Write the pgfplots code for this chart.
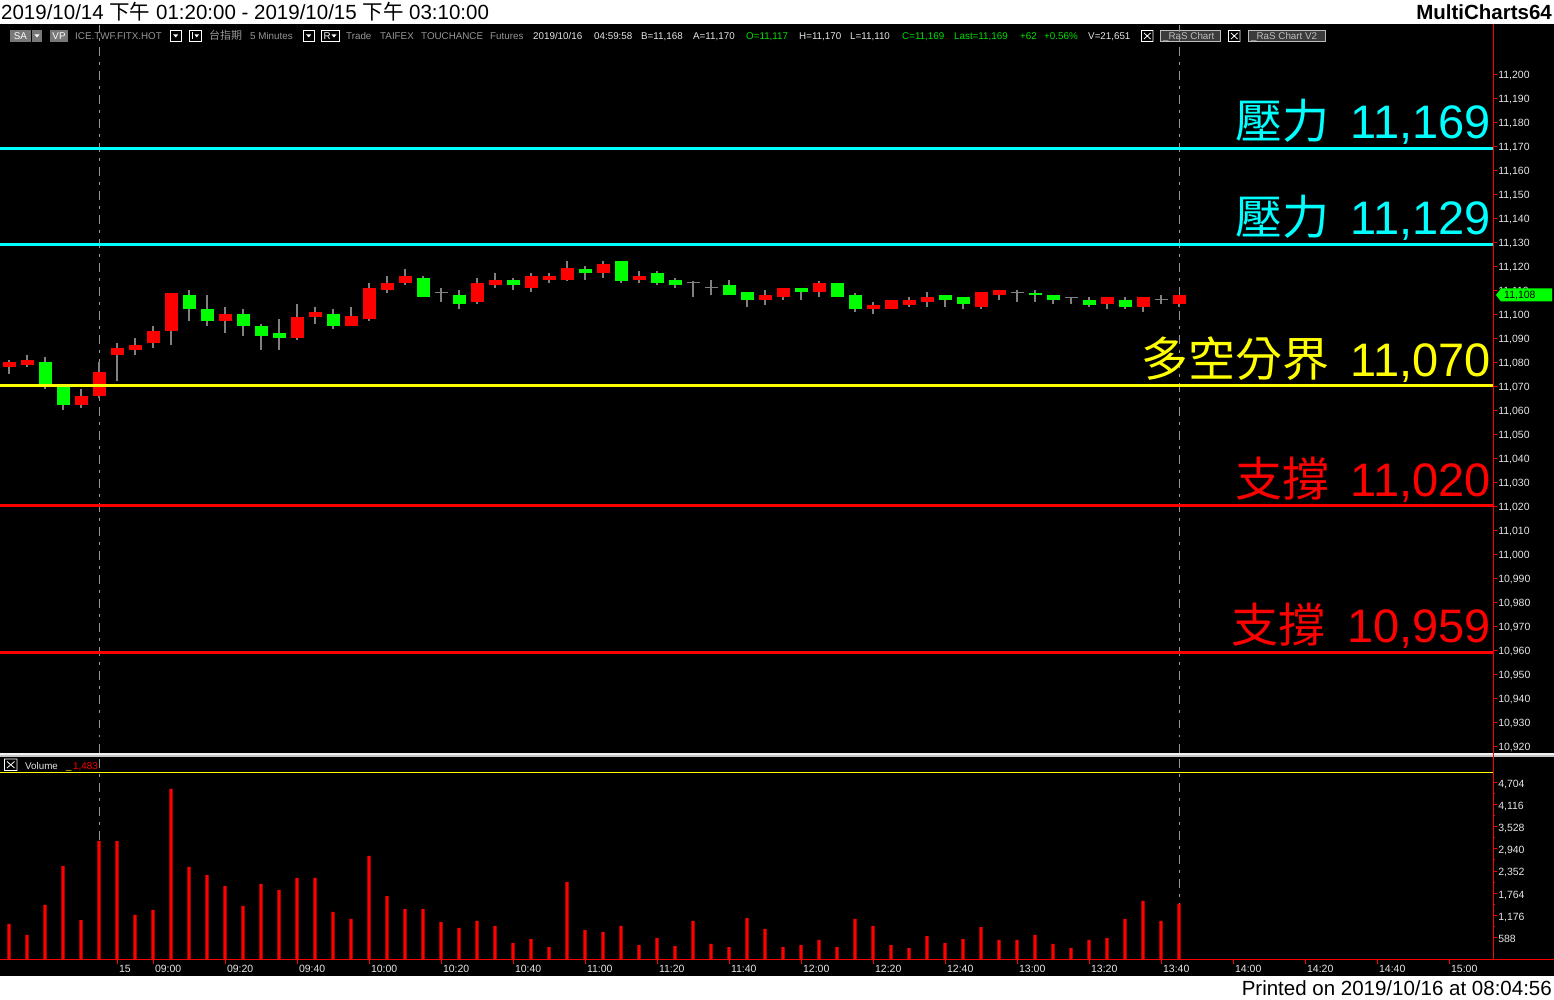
\documentclass[border=0pt]{standalone}
\usepackage{pgfplots}
\pgfplotsset{compat=1.18}
\usepackage{pgfplotstable}
\usepackage{fontspec}
\setmainfont{Liberation Sans}
\newfontfamily\cjk{Noto Sans CJK TC}

\definecolor{upred}{RGB}{255,0,0}
\definecolor{dngreen}{RGB}{0,255,0}
\definecolor{wickgray}{RGB}{128,128,128}
\definecolor{lvcyan}{RGB}{0,255,255}
\definecolor{lvyellow}{RGB}{255,255,0}
\definecolor{tbgray}{RGB}{150,150,150}
\definecolor{tbwhite}{RGB}{230,230,230}
\definecolor{tbgreen}{RGB}{0,225,0}
\definecolor{tbbox}{RGB}{120,120,120}
\definecolor{rasfill}{RGB}{60,60,60}
\definecolor{rasdraw}{RGB}{190,190,190}
\definecolor{dashgray}{RGB}{150,150,150}

\newcommand\tbfont{\fontsize{9.8}{11}\selectfont}
\newcommand\tkfont{\fontsize{10.5}{12}\selectfont}
\newcommand\lvfont{\fontsize{47}{50}\selectfont}
\newcommand\lvtext[2]{{\cjk #1}\hspace{0.45em}#2}
\tikzset{lvlabel/.style={anchor=base east, inner sep=0, yshift=9.5pt, font=\lvfont}}

% 5-minute candles, red = close above open
\pgfplotstableread{
i O H L C
0 11078 11081 11075 11080
1 11079 11083 11078 11081
4 11062 11069 11061 11066
5 11066 11080 11065 11076
6 11083 11088 11072 11086
7 11085 11090 11083 11087
8 11088 11095 11086 11093
9 11093 11109 11087 11109
12 11097 11103 11092 11100
16 11090 11104 11089 11099
17 11099 11103 11096 11101
19 11095 11103 11095 11099
20 11098 11113 11097 11111
21 11110 11116 11109 11113
22 11113 11119 11112 11116
26 11105 11115 11104 11113
27 11112 11117 11111 11114
29 11111 11117 11109 11116
30 11114 11117 11113 11116
31 11114 11122 11114 11119
33 11117 11122 11115 11121
35 11114 11118 11113 11116
42 11106 11110 11104 11108
43 11107 11111 11106 11111
45 11109 11114 11107 11113
48 11102 11105 11100 11104
49 11102 11106 11102 11106
50 11104 11107 11103 11106
51 11105 11109 11103 11107
54 11103 11109 11102 11109
55 11108 11110 11106 11110
61 11104 11107 11102 11107
63 11103 11107 11101 11107
65 11104 11108 11103 11108
}\upbars

% green = close below open
\pgfplotstableread{
i O H L C
2 11080 11082 11069 11070
3 11071 11071 11060 11062
10 11108 11110 11097 11102
11 11102 11108 11095 11097
13 11100 11102 11091 11095
14 11095 11096 11085 11091
15 11092 11098 11085 11090
18 11100 11102 11094 11095
23 11115 11116 11107 11107
25 11108 11110 11102 11104
28 11114 11115 11110 11112
32 11119 11120 11114 11117
34 11122 11122 11113 11114
36 11117 11118 11112 11113
37 11114 11115 11111 11112
40 11112 11114 11108 11108
41 11109 11109 11103 11106
44 11111 11111 11106 11109
46 11113 11113 11107 11107
47 11108 11109 11101 11102
52 11108 11108 11103 11106
53 11107 11107 11102 11104
57 11109 11110 11105 11108
58 11108 11108 11104 11106
60 11106 11107 11103 11104
62 11106 11107 11102 11103
}\dnbars

% open = close
\pgfplotstableread{
i O H L
24 11109 11111 11105
38 11113 11114 11107
39 11111 11114 11108
56 11109 11110 11105
59 11107 11107 11104
64 11106 11108 11104
}\dojibars

\pgfplotstableread{
i V
0 943
1 651
2 1448
3 2483
4 1049
5 3147
6 3147
7 1182
8 1315
9 4529
10 2457
11 2244
12 1952
13 1421
14 2005
15 1846
16 2165
17 2165
18 1262
19 1076
20 2749
21 1686
22 1341
23 1341
24 996
25 837
26 1023
27 890
28 438
29 544
30 332
31 2058
32 783
33 730
34 890
35 385
36 571
37 358
38 1023
39 412
40 332
41 1102
42 810
43 332
44 385
45 518
46 332
47 1076
48 890
49 385
50 305
51 624
52 438
53 544
54 863
55 518
56 518
57 651
58 412
59 305
60 518
61 571
62 1076
63 1554
64 1023
65 1483
}\vol

\begin{document}
\begin{tikzpicture}[x=1pt,y=1pt]
% page and panel
\fill[white] (0,0) rectangle (1554,999);
\fill[black] (0,23) rectangle (1554,975);

% header and footer
\node[anchor=base west, inner sep=0, font=\fontsize{20.5}{24}\selectfont] at (1,979)
  {2019/10/14 {\cjk 下午} 01:20:00 - 2019/10/15 {\cjk 下午} 03:10:00};
\node[anchor=base east, inner sep=0, font=\fontsize{20.5}{24}\selectfont\bfseries] at (1552,979) {MultiCharts64};
\node[anchor=base east, inner sep=0, font=\fontsize{20.5}{24}\selectfont] at (1552,4) {Printed on 2019/10/16 at 08:04:56};

% toolbar
\begin{scope}[every node/.style={anchor=base west, inner sep=0, font=\tbfont}]
  \fill[tbbox] (10,957) rectangle (31,969);
  \node[anchor=center, text=white] at (20.5,963) {SA};
  \fill[tbbox] (32,957) rectangle (42,969);
  \fill[white] (34.5,964.5) -- (39.5,964.5) -- (37,961.5) -- cycle;
  \fill[tbbox] (50,957) rectangle (68,969);
  \node[anchor=center, text=white] at (59,963) {VP};
  \node[text=tbgray] at (75,959) {ICE.TWF.FITX.HOT};
  \draw[white, line width=0.8pt] (170.5,957.5) rectangle (181,968.5);
  \fill[white] (173.2,964.5) -- (178.2,964.5) -- (175.7,961.5) -- cycle;
  \draw[white, line width=0.8pt] (189.5,957.5) rectangle (201,968.5);
  \draw[white, line width=0.8pt] (192.5,959.5) -- (192.5,966.5);
  \fill[white] (194.5,964.5) -- (199,964.5) -- (196.7,961.5) -- cycle;
  \node[text=tbgray, font=\fontsize{11}{12}\selectfont\cjk] at (209,959) {台指期};
  \node[text=tbgray] at (250,959) {5 Minutes};
  \draw[white, line width=0.8pt] (303.5,957.5) rectangle (314,968.5);
  \fill[white] (306.2,964.5) -- (311.2,964.5) -- (308.7,961.5) -- cycle;
  \draw[white, line width=0.8pt] (321.5,957.5) rectangle (339,968.5);
  \node[text=white] at (323.5,959) {R};
  \fill[white] (331.5,964.5) -- (336.5,964.5) -- (334,961.5) -- cycle;
  \node[text=tbgray] at (346,959) {Trade};
  \node[text=tbgray] at (380,959) {TAIFEX};
  \node[text=tbgray] at (421,959) {TOUCHANCE};
  \node[text=tbgray] at (490,959) {Futures};
  \node[text=tbwhite] at (533,959) {2019/10/16};
  \node[text=tbwhite] at (594,959) {04:59:58};
  \node[text=tbwhite] at (641,959) {B=11,168};
  \node[text=tbwhite] at (693,959) {A=11,170};
  \node[text=tbgreen] at (746,959) {O=11,117};
  \node[text=tbwhite] at (799,959) {H=11,170};
  \node[text=tbwhite] at (850,959) {L=11,110};
  \node[text=tbgreen] at (902,959) {C=11,169};
  \node[text=tbgreen] at (954,959) {Last=11,169};
  \node[text=tbgreen] at (1020,959) {+62};
  \node[text=tbgreen] at (1044,959) {+0.56\%};
  \node[text=tbwhite] at (1088,959) {V=21,651};
  \draw[white, line width=0.8pt] (1141.5,957.5) rectangle (1153,968.5)
    (1144,960) -- (1150.5,966) (1144,966) -- (1150.5,960);
  \filldraw[fill=rasfill, draw=rasdraw, line width=0.8pt] (1160.5,957.5) rectangle (1220.5,968.5);
  \node[text=rasdraw] at (1163,959) {\_RaS Chart};
  \draw[white, line width=0.8pt] (1228.5,957.5) rectangle (1240,968.5)
    (1231,960) -- (1237.5,966) (1231,966) -- (1237.5,960);
  \filldraw[fill=rasfill, draw=rasdraw, line width=0.8pt] (1248.5,957.5) rectangle (1325,968.5);
  \node[text=rasdraw] at (1251,959) {\_RaS Chart V2};
\end{scope}

% price panel
\begin{axis}[at={(0pt,247pt)}, anchor=south west, scale only axis,
  width=1493pt, height=704pt,
  xmin=-0.5, xmax=82.444, ymin=10917.5, ymax=11210.83, clip=false,
  axis line style={draw=none},
  xtick=\empty, ytick pos=right, yticklabel pos=right,
  ytick={10920,10930,...,11200}, minor y tick num=1,
  tick align=outside, major tick length=4pt, minor tick length=2pt,
  tick style={draw=upred, line width=0.8pt},
  scaled y ticks=false,
  yticklabel style={font=\tkfont, text=tbwhite, inner xsep=1pt, yshift=-2pt,
    /pgf/number format/.cd, 1000 sep={,}, fixed, precision=0, assume math mode=true},
]
  \addplot[dashgray, line width=1pt, dash pattern=on 8.5pt off 6.5pt on 2.5pt off 6.5pt]
    coordinates {(5,10917.5) (5,11220.4)};
  \addplot[dashgray, line width=1pt, dash pattern=on 8.5pt off 6.5pt on 2.5pt off 6.5pt]
    coordinates {(65,10917.5) (65,11220.4)};

  % wicks
  \addplot[draw=none, error bars/.cd, y dir=both, y explicit, error mark=none,
    error bar style={draw=wickgray, line width=1.3pt}]
    table[x=i, y expr={(\thisrow{H}+\thisrow{L})/2}, y error expr={(\thisrow{H}-\thisrow{L})/2}] {\upbars};
  \addplot[draw=none, error bars/.cd, y dir=both, y explicit, error mark=none,
    error bar style={draw=wickgray, line width=1.3pt}]
    table[x=i, y expr={(\thisrow{H}+\thisrow{L})/2}, y error expr={(\thisrow{H}-\thisrow{L})/2}] {\dnbars};
  \addplot[draw=none, error bars/.cd, y dir=both, y explicit, error mark=none,
    error bar style={draw=wickgray, line width=1.3pt}]
    table[x=i, y expr={(\thisrow{H}+\thisrow{L})/2}, y error expr={(\thisrow{H}-\thisrow{L})/2}] {\dojibars};
  % bodies
  \addplot[draw=none, error bars/.cd, y dir=both, y explicit, error mark=none,
    error bar style={draw=upred, line width=13pt}]
    table[x=i, y expr={(\thisrow{O}+\thisrow{C})/2}, y error expr={(\thisrow{C}-\thisrow{O})/2}] {\upbars};
  \addplot[draw=none, error bars/.cd, y dir=both, y explicit, error mark=none,
    error bar style={draw=dngreen, line width=13pt}]
    table[x=i, y expr={(\thisrow{O}+\thisrow{C})/2}, y error expr={(\thisrow{O}-\thisrow{C})/2}] {\dnbars};
  \addplot[only marks, mark=-, mark size=6.5pt, mark options={draw=wickgray, line width=1.3pt}]
    table[x=i, y=O] {\dojibars};

  % support and resistance levels
  \addplot[lvcyan, line width=3pt] coordinates {(-0.5,11169) (82.444,11169)};
  \addplot[lvcyan, line width=3pt] coordinates {(-0.5,11129) (82.444,11129)};
  \addplot[lvyellow, line width=3pt] coordinates {(-0.5,11070) (82.444,11070)};
  \addplot[upred, line width=3pt] coordinates {(-0.5,11020) (82.444,11020)};
  \addplot[upred, line width=3pt] coordinates {(-0.5,10959) (82.444,10959)};

  \node[lvlabel, text=lvcyan] at (axis cs:82.333,11169) {\lvtext{壓力}{11,169}};
  \node[lvlabel, text=lvcyan] at (axis cs:82.333,11129) {\lvtext{壓力}{11,129}};
  \node[lvlabel, text=lvyellow] at (axis cs:82.333,11070) {\lvtext{多空分界}{11,070}};
  \node[lvlabel, text=upred] at (axis cs:82.333,11020) {\lvtext{支撐}{11,020}};
  \node[lvlabel, text=upred] at (axis cs:82.333,10959) {\lvtext{支撐}{10,959}};
\end{axis}

% last price tag
\fill[dngreen] (1496,704) -- (1501,710.5) -- (1552,710.5) -- (1552,697.5) -- (1501,697.5) -- cycle;
\node[anchor=mid west, inner sep=0, font=\tkfont, text=black] at (1504,703.5) {11,108};

% panel separator
\fill[gray!45] (0,242.5) rectangle (1554,246.5);
\fill[gray!10] (0,244.2) rectangle (1554,246);

% volume panel
\begin{axis}[at={(0pt,39.5pt)}, anchor=south west, scale only axis,
  width=1493pt, height=187.5pt,
  xmin=-0.5, xmax=82.444, ymin=0, ymax=4979.6, clip=false,
  axis line style={draw=none},
  xtick pos=bottom, ytick pos=right, yticklabel pos=right,
  ytick={588,1176,1764,2352,2940,3528,4116,4704}, minor y tick num=1,
  xtick={6,8,12,16,20,24,28,32,36,40,44,48,52,56,60,64,68,72,76,80},
  xticklabels={15,09:00,09:20,09:40,10:00,10:20,10:40,11:00,11:20,11:40,12:00,12:20,12:40,13:00,13:20,13:40,14:00,14:20,14:40,15:00},
  tick align=outside, major tick length=4pt, minor tick length=2pt,
  tick style={draw=upred, line width=0.8pt},
  scaled y ticks=false,
  yticklabel style={font=\tkfont, text=tbwhite, inner xsep=1pt, yshift=-2pt,
    /pgf/number format/.cd, 1000 sep={,}, fixed, precision=0, assume math mode=true},
  xticklabel style={font=\tkfont, text=tbwhite, anchor=north west, xshift=-1.5pt, yshift=1.5pt},
]
  \addplot[dashgray, line width=1pt, dash pattern=on 8.5pt off 6.5pt on 2.5pt off 6.5pt]
    coordinates {(5,0) (5,5511)};
  \addplot[dashgray, line width=1pt, dash pattern=on 8.5pt off 6.5pt on 2.5pt off 6.5pt]
    coordinates {(65,0) (65,5511)};
  \addplot[ybar, bar width=3.2pt, fill=upred, draw=none] table[x=i, y=V] {\vol};
\end{axis}

% volume header
\draw[lvyellow, line width=1pt] (0,227) -- (1493,227);
\draw[white, line width=0.8pt] (4.5,228.5) rectangle (17,240)
  (7,231) -- (14.5,237.5) (7,237.5) -- (14.5,231);
\node[anchor=base west, inner sep=0, font=\tbfont, text=tbwhite] at (25,229.5) {Volume};
\node[anchor=base west, inner sep=0, font=\tbfont, text=lvyellow] at (66,229.5) {\_};
\node[anchor=base west, inner sep=0, font=\tbfont, text=upred] at (73,229.5) {1,483};

% axis lines across the whole panel
\draw[upred, line width=1pt] (1493,975) -- (1493,39.5);
\draw[upred, line width=1.3pt] (0,39.5) -- (1554,39.5);

\pgfresetboundingbox
\path[use as bounding box] (0,0) rectangle (1554,999);
\end{tikzpicture}
\end{document}
